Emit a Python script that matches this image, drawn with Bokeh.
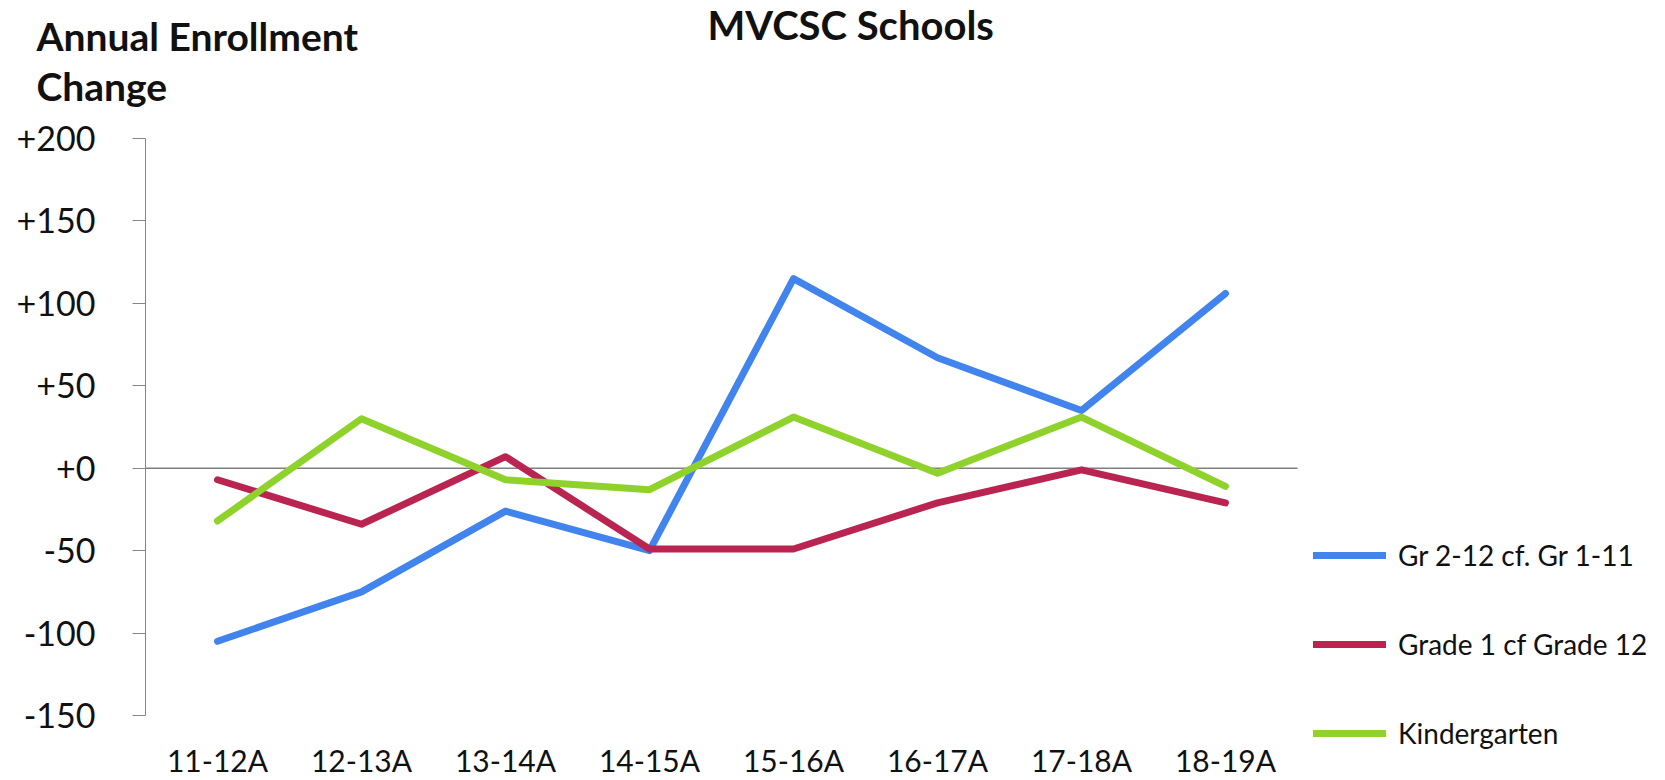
from bokeh.plotting import figure
from bokeh.models import (Range1d, FixedTicker, CustomJSTickFormatter,
                          Legend, LegendItem, Label)
from bokeh.embed import file_html
from bokeh.resources import INLINE

# ---- data ----
categories = ["11-12A", "12-13A", "13-14A", "14-15A", "15-16A", "16-17A", "17-18A", "18-19A"]
gr2_12 = [-105, -75, -26, -50, 115, 67, 35, 106]
grade1 = [-7, -34, 7, -49, -49, -21, -1, -21]
kinder = [-32, 30, -7, -13, 31, -3, 31, -11]
series_names = ["Gr 2-12 cf. Gr 1-11", "Grade 1 cf Grade 12", "Kindergarten"]
y_ticks = [-150, -100, -50, 0, 50, 100, 150, 200]
y_min, y_max = -150, 200
title_text = "MVCSC Schools"
ylabel_lines = ["Annual Enrollment", "Change"]

colors = ["#4184EE", "#BA2450", "#8FD22C"]
FONT = "Lato"
TXT = "#111111"

W, H = 1660, 779
# plotting area (pixels inside the canvas)
AX_LEFT, AX_RIGHT, AX_TOP, AX_BOTTOM = 145, 1297, 138, 715
n = len(categories)
x_pos = [i + 0.5 for i in range(n)]            # category slots on the scale
cat_px = (AX_RIGHT - AX_LEFT) / n
y_px = (AX_BOTTOM - AX_TOP) / (y_max - y_min)
x_range = Range1d(-AX_LEFT / cat_px, (W - AX_LEFT) / cat_px)
y_range = Range1d(y_min - (H - AX_BOTTOM) / y_px, y_max + AX_TOP / y_px)

p = figure(width=W, height=H, x_range=x_range, y_range=y_range,
           output_backend="svg", toolbar_location=None, title=None, min_border=0)
p.outline_line_color = None
p.xgrid.grid_line_color = None
p.ygrid.grid_line_color = None

# y axis
p.yaxis.fixed_location = 0
p.yaxis.bounds = (y_min, y_max)
p.yaxis.ticker = FixedTicker(ticks=y_ticks)
p.yaxis.formatter = CustomJSTickFormatter(code="return (tick >= 0 ? '+' : '') + tick;")
p.yaxis.axis_line_color = "#868686"
p.yaxis.major_tick_line_color = "#868686"
p.yaxis.major_tick_out = 13
p.yaxis.major_tick_in = 0
p.yaxis.minor_tick_line_color = None
p.yaxis.major_label_standoff = 37
p.yaxis.major_label_text_font = FONT
p.yaxis.major_label_text_font_size = "34px"
p.yaxis.major_label_text_color = TXT

# x axis (category labels) at the -150 level
p.xaxis.fixed_location = y_min
p.xaxis.ticker = FixedTicker(ticks=x_pos)
p.xaxis.major_label_overrides = {x: c for x, c in zip(x_pos, categories)}
p.xaxis.axis_line_color = None
p.xaxis.major_tick_line_color = None
p.xaxis.minor_tick_line_color = None
p.xaxis.major_tick_out = 0
p.xaxis.major_tick_in = 0
p.xaxis.major_label_standoff = 26
p.xaxis.major_label_text_font = FONT
p.xaxis.major_label_text_font_size = "30px"
p.xaxis.major_label_text_color = TXT

# zero line across the category span
p.segment(x0=0, x1=n, y0=0, y1=0, line_color="#808080", line_width=1.5)

renderers = []
for vals, c in zip([gr2_12, grade1, kinder], colors):
    r = p.line(x=x_pos, y=vals, line_color=c, line_width=7,
               line_cap="round", line_join="round")
    renderers.append(r)

legend = Legend(items=[LegendItem(label=nm, renderers=[r]) for nm, r in zip(series_names, renderers)],
                location=(1313, 26), orientation="vertical",
                glyph_width=73, glyph_height=40, label_height=40, spacing=49,
                padding=0, margin=0, border_line_color=None, background_fill_alpha=0,
                label_standoff=12, label_text_font=FONT, label_text_font_size="28px",
                label_text_color=TXT)
p.add_layout(legend)

# title and caption (y measured upward from the bottom of the canvas)
p.add_layout(Label(x=707, y=H - 24, x_units="screen", y_units="screen", text=title_text,
                   text_font=FONT, text_font_style="bold", text_font_size="40px",
                   text_color=TXT, text_baseline="alphabetic", text_align="left"))
for line, yy in zip(ylabel_lines, [35, 85]):
    p.add_layout(Label(x=36, y=H - yy, x_units="screen", y_units="screen", text=line,
                       text_font=FONT, text_font_style="bold", text_font_size="39px",
                       text_color=TXT, text_baseline="alphabetic", text_align="left"))

open("out.html", "w").write(file_html(p, INLINE))
